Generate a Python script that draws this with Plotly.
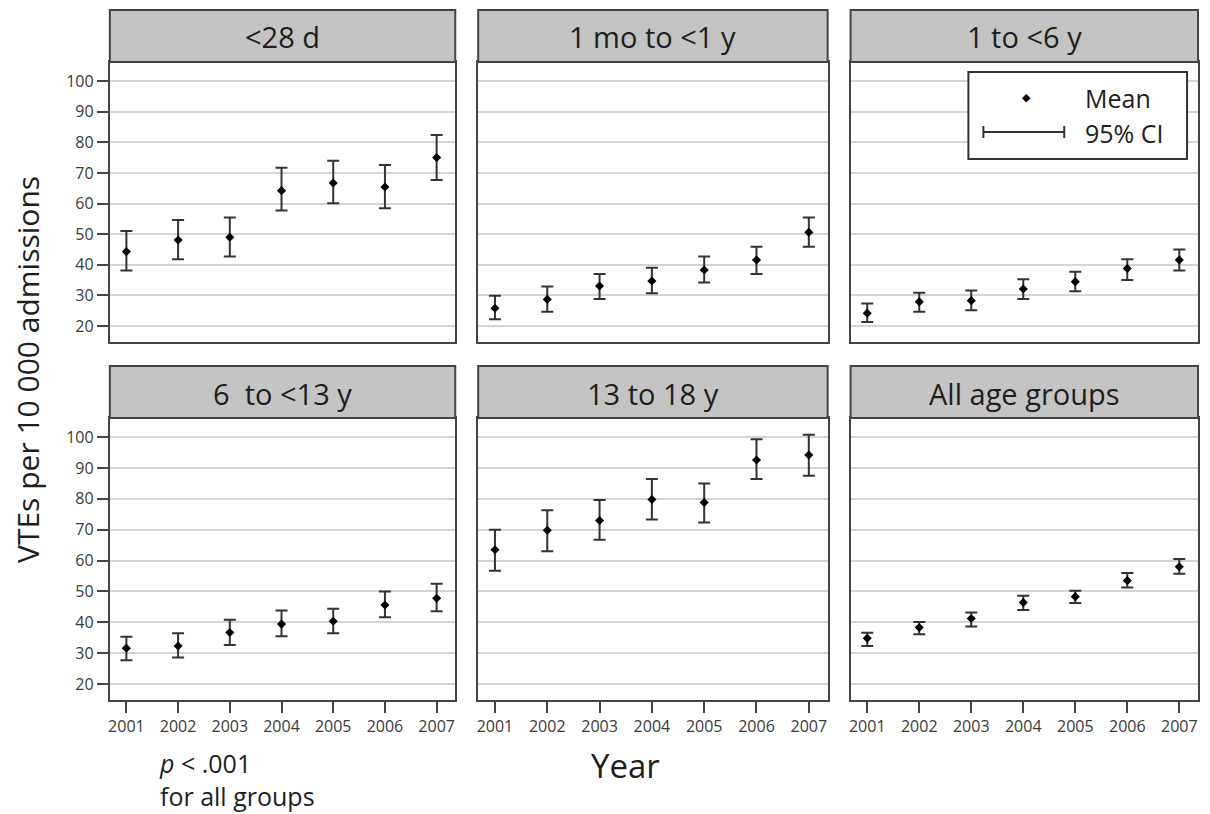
import plotly.graph_objects as go

years = [2001, 2002, 2003, 2004, 2005, 2006, 2007]
panel_titles = ["<28 d", "1 mo to <1 y", "1 to <6 y", "6  to <13 y", "13 to 18 y", "All age groups"]

mean_neonate = [44.3, 48.1, 49.0, 64.2, 66.7, 65.4, 75.0]
lower_neonate = [38.1, 41.8, 42.7, 57.7, 60.1, 58.5, 67.7]
upper_neonate = [51.0, 54.6, 55.4, 71.7, 74.0, 72.6, 82.4]

mean_infant = [25.8, 28.7, 33.1, 34.7, 38.3, 41.6, 50.6]
lower_infant = [22.2, 24.7, 28.8, 30.7, 34.2, 37.0, 45.9]
upper_infant = [29.9, 32.9, 37.0, 39.0, 42.7, 45.9, 55.4]

mean_1to6 = [24.2, 27.9, 28.3, 32.1, 34.5, 38.8, 41.6]
lower_1to6 = [21.3, 24.7, 25.2, 28.8, 31.4, 35.0, 38.1]
upper_1to6 = [27.4, 30.9, 31.6, 35.3, 37.7, 41.8, 45.0]

mean_6to13 = [31.6, 32.3, 36.7, 39.4, 40.3, 45.6, 47.8]
lower_6to13 = [27.7, 28.6, 32.6, 35.5, 36.4, 41.6, 43.6]
upper_6to13 = [35.3, 36.4, 40.8, 43.8, 44.4, 50.0, 52.5]

mean_13to18 = [63.5, 69.8, 73.0, 79.8, 78.8, 92.6, 94.2]
lower_13to18 = [56.7, 63.0, 66.7, 73.3, 72.3, 86.4, 87.5]
upper_13to18 = [70.0, 76.3, 79.6, 86.4, 85.0, 99.3, 100.8]

mean_all = [34.8, 38.3, 41.2, 46.4, 48.3, 53.5, 58.0]
lower_all = [32.3, 36.1, 38.6, 44.0, 46.2, 51.3, 55.7]
upper_all = [36.6, 40.1, 43.2, 48.6, 50.2, 56.0, 60.5]

y_ticks = [20, 30, 40, 50, 60, 70, 80, 90, 100]

series = [
    (mean_neonate, lower_neonate, upper_neonate),
    (mean_infant, lower_infant, upper_infant),
    (mean_1to6, lower_1to6, upper_1to6),
    (mean_6to13, lower_6to13, upper_6to13),
    (mean_13to18, lower_13to18, upper_13to18),
    (mean_all, lower_all, upper_all),
]

# page is offset by the default 8px body margin
OFF = 8
W, H = 1210 - OFF, 814 - OFF


def fx(px):
    return (px - OFF) / W


def fy(py):
    return 1 - (py - OFF) / H


col_px = [(108, 454), (477, 827), (850, 1198)]
row_px = [(62, 342), (418, 700)]
head_px = [(10, 62), (366, 418)]

FONT = "Open Sans"
TXT = "#1e1e1e"
fig = go.Figure()
layout = dict(
    width=W, height=H,
    margin=dict(l=0, r=0, t=0, b=0),
    paper_bgcolor="white", plot_bgcolor="white",
    showlegend=False,
    font=dict(family=FONT, color=TXT),
    shapes=[], annotations=[],
)

for i, (m, lo, hi) in enumerate(series):
    r, c = divmod(i, 3)
    n = i + 1
    xa = "x" if n == 1 else f"x{n}"
    ya = "y" if n == 1 else f"y{n}"
    fig.add_trace(go.Scatter(
        x=years, y=m, mode="markers",
        marker=dict(symbol="diamond", size=7, color="black"),
        error_y=dict(type="data", symmetric=False,
                     array=[h - v for h, v in zip(hi, m)],
                     arrayminus=[v - l for v, l in zip(m, lo)],
                     color="#333", thickness=2, width=6),
        xaxis=xa, yaxis=ya,
    ))
    x0, x1 = col_px[c]
    y0, y1 = row_px[r]
    layout[f"xaxis{'' if n == 1 else n}"] = dict(
        domain=[fx(x0), fx(x1)], anchor=ya, range=[2000.68, 2007.36],
        tickmode="array", tickvals=years,
        ticktext=[str(y) for y in years],
        ticks="outside" if r == 1 else "", ticklen=11, tickwidth=2, tickcolor="#444",
        showticklabels=(r == 1),
        tickfont=dict(size=16, color="#3a3a3a", family=FONT),
        showgrid=False, zeroline=False,
        showline=True, linecolor="#444", linewidth=2, mirror=True,
    )
    layout[f"yaxis{'' if n == 1 else n}"] = dict(
        domain=[fy(y1), fy(y0)], anchor=xa, range=[14.8, 106.2],
        tickmode="array", tickvals=y_ticks,
        ticks="outside" if c == 0 else "", ticklen=11, tickwidth=2, tickcolor="#444",
        showticklabels=(c == 0),
        tickfont=dict(size=16, color="#3a3a3a", family=FONT),
        showgrid=True, gridcolor="#d4d4d4", gridwidth=2, zeroline=False,
        showline=True, linecolor="#444", linewidth=2, mirror=True,
    )
    hy0, hy1 = head_px[r]
    layout["shapes"].append(dict(
        type="rect", xref="paper", yref="paper",
        x0=fx(x0), x1=fx(x1), y0=fy(hy1), y1=fy(hy0),
        fillcolor="#c4c4c4", line=dict(color="#444", width=2), layer="above",
    ))
    layout["annotations"].append(dict(
        x=fx((x0 + x1) / 2), y=fy((hy0 + hy1) / 2 + 1), xref="paper", yref="paper",
        text=panel_titles[i], showarrow=False, xanchor="center", yanchor="middle",
        font=dict(size=29, color=TXT, family=FONT),
    ))

# legend box inside panel 3
lx0, lx1, ly0, ly1 = 968, 1187, 72, 159
layout["shapes"].append(dict(type="rect", xref="paper", yref="paper",
                             x0=fx(lx0), x1=fx(lx1), y0=fy(ly1), y1=fy(ly0),
                             fillcolor="white", line=dict(color="#333", width=2)))
layout["shapes"].append(dict(type="line", xref="paper", yref="paper",
                             x0=fx(983), x1=fx(1064), y0=fy(132), y1=fy(132),
                             line=dict(color="#333", width=2)))
for xx in (983, 1064):
    layout["shapes"].append(dict(type="line", xref="paper", yref="paper",
                                 x0=fx(xx), x1=fx(xx), y0=fy(126), y1=fy(138),
                                 line=dict(color="#333", width=2)))
layout["annotations"].append(dict(x=fx(1026), y=fy(97), xref="paper", yref="paper",
                                  text="◆", showarrow=False, xanchor="center", yanchor="middle",
                                  font=dict(size=11, color="black")))
layout["annotations"].append(dict(x=fx(1083), y=fy(98), xref="paper", yref="paper",
                                  text="Mean", showarrow=False, xanchor="left", yanchor="middle",
                                  font=dict(size=25, color=TXT, family=FONT)))
layout["annotations"].append(dict(x=fx(1083), y=fy(133), xref="paper", yref="paper",
                                  text="95% CI", showarrow=False, xanchor="left", yanchor="middle",
                                  font=dict(size=25, color=TXT, family=FONT)))

# axis titles and note
layout["annotations"].append(dict(x=fx(25), y=fy(369), xref="paper", yref="paper",
                                  text="VTEs per 10 000 admissions", textangle=-90,
                                  xanchor="center", yanchor="middle",
                                  showarrow=False, font=dict(size=30, color=TXT, family=FONT)))
layout["annotations"].append(dict(x=fx(625), y=fy(765), xref="paper", yref="paper",
                                  text="Year", showarrow=False, xanchor="center", yanchor="middle",
                                  font=dict(size=33, color=TXT, family=FONT)))
layout["annotations"].append(dict(x=fx(155), y=fy(779), xref="paper", yref="paper",
                                  text="<i>p</i> < .001<br>for all groups", showarrow=False,
                                  xanchor="left", yanchor="middle", align="left",
                                  font=dict(size=25, color=TXT, family=FONT)))

fig.update_layout(**layout)
fig.write_html("out.html")
